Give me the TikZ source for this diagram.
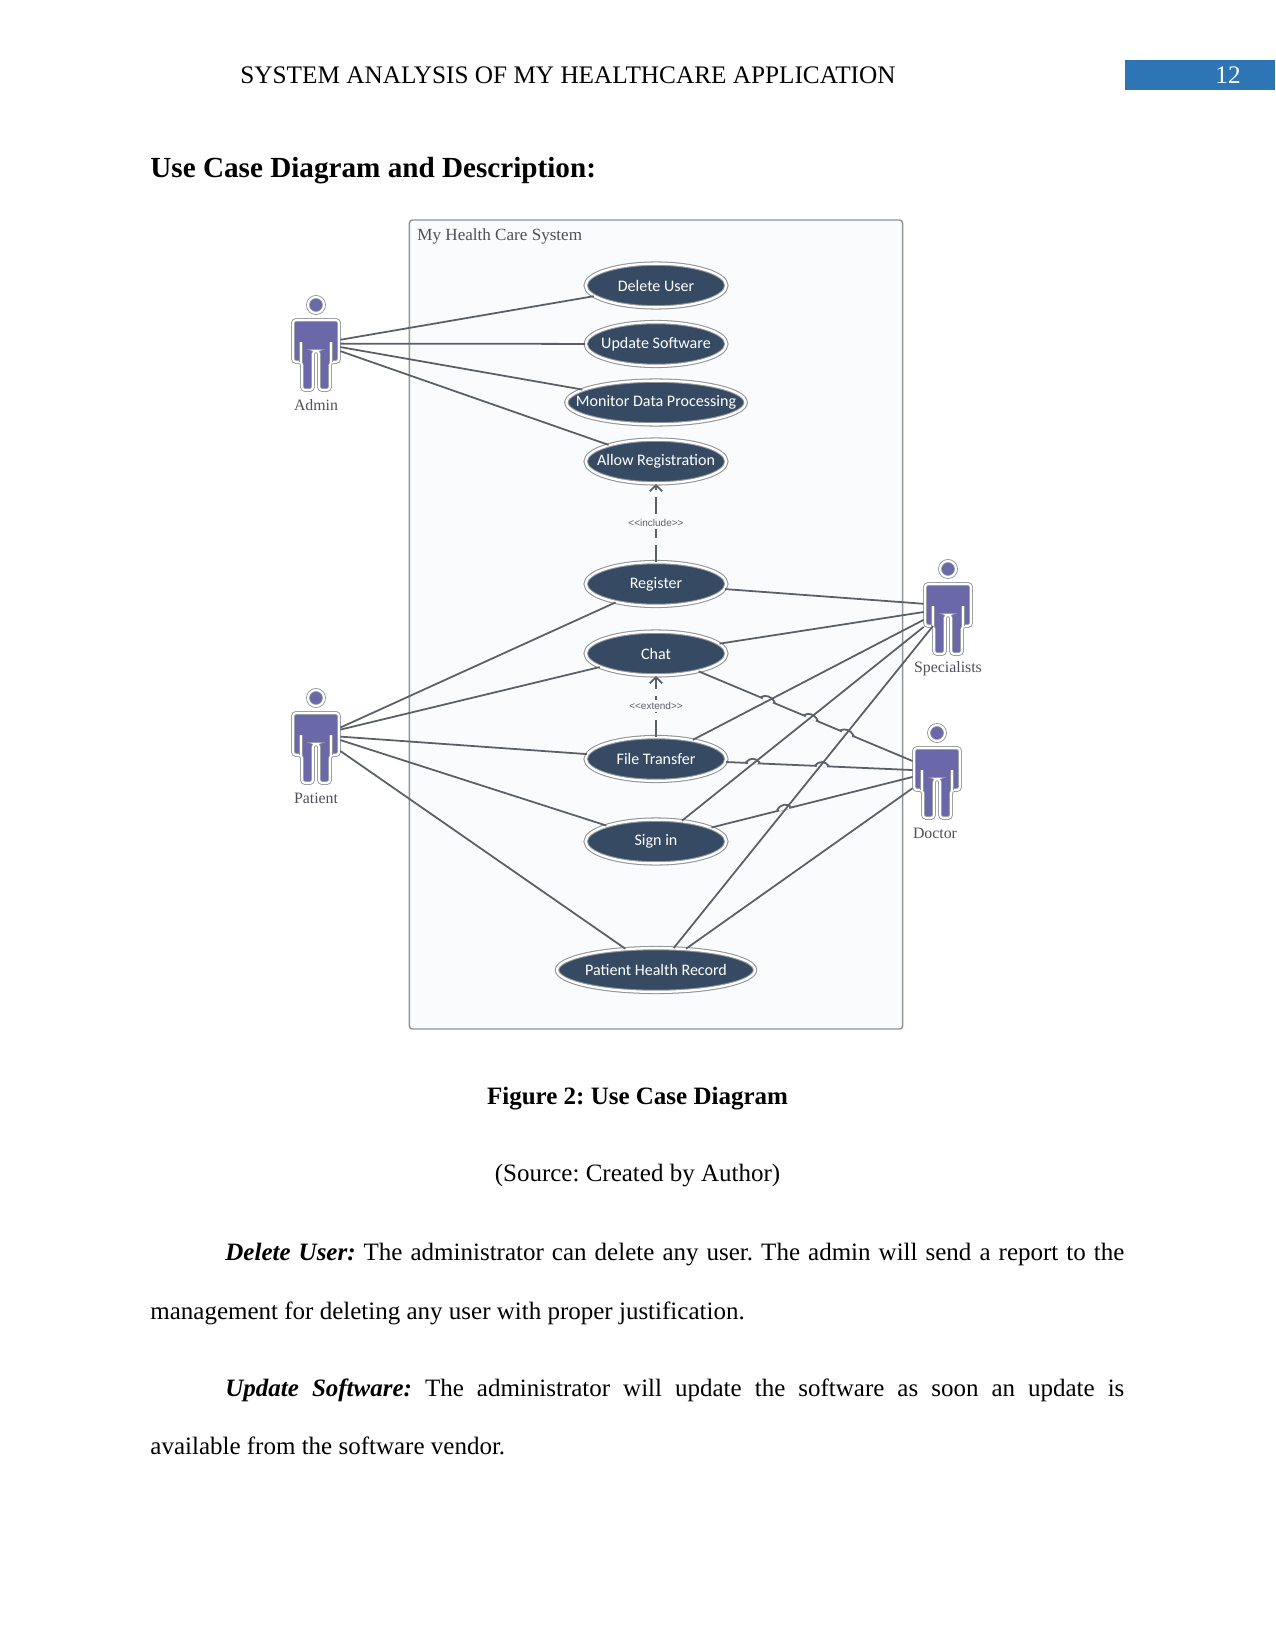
\documentclass[tikz,border=0pt]{standalone}
\usepackage{fontspec}
\setmainfont{Liberation Serif}
\newfontfamily\ucfont{Carlito}
\newfontfamily\tagfont{Liberation Sans}
\usetikzlibrary{shapes.geometric,arrows.meta}

\definecolor{ucdark}{HTML}{364B63}
\definecolor{ucedge}{HTML}{8E9499}
\definecolor{ucline}{HTML}{5A6068}
\definecolor{ucframe}{HTML}{FAFBFC}
\definecolor{ucactor}{HTML}{6A68A8}
\definecolor{uclabel}{HTML}{4E4E5C}
\definecolor{pageblue}{HTML}{2E75B6}

\tikzset{
  usecase/.style={ellipse,draw=ucedge,line width=.5pt,double=white,double distance=1.1pt,
    fill=ucdark,text=white,inner xsep=-10pt,inner ysep=-3pt,minimum width=67.5pt,minimum height=21pt,
    font=\ucfont\fontsize{7.7}{9}\selectfont},
  usecasewide/.style={usecase,minimum width=86pt},
  usecasewider/.style={usecase,minimum width=95pt},
  connector/.style={draw=ucline,line width=.85pt},
  depend/.style={connector,dash pattern=on 8.2pt off 3.3pt,-{Straight Barb[length=3pt,width=6pt]}},
  deptag/.style={fill=ucframe,inner sep=1pt,text=ucline,font=\tagfont\fontsize{4.8}{6}\selectfont},
  actorbody/.style={minimum width=23pt,minimum height=34pt,inner sep=0pt},
  actorskin/.style={fill=ucactor,draw=ucedge,line width=.4pt,double=white,double distance=1pt,
    rounded corners=1.5pt},
  actorslit/.style={draw=ucedge,line width=.4pt,double=white,double distance=1pt},
  actortag/.style={text=uclabel,inner sep=0pt,font=\fontsize{7.6}{9}\selectfont},
  plain/.style={inner sep=0pt,anchor=base west,font=\fontsize{12.12}{14}\selectfont},
  para/.style={inner sep=0pt,anchor=north west,text width=467.5pt,align=justify,
    font=\fontsize{12}{28.2}\selectfont\frenchspacing},
}

\newcommand{\actor}[5]{
  \begin{scope}[shift={(#2,#3)}]
    \draw[actorskin] (-23,-35) -- (23,-35) -- (23,7) -- (14,7) -- (14,35)
      -- (3,35) -- (3,-4) -- (-3,-4) -- (-3,35) -- (-14,35) -- (-14,7)
      -- (-23,7) -- cycle;
    \draw[actorslit] (-15,7) -- (-15,-13);
    \draw[actorslit] (15,7) -- (15,-13);
    \draw[actorskin] (0,-50) circle (8);
  \end{scope}
  \node[actorbody] (#1) at (#2,#3) {};
  \node[actortag] (#1tag) at (#4,#3+50) {#5};
}

\begin{document}
\begin{tikzpicture}[x=.48pt,y=-.48pt]
  \useasboundingbox (0,0) rectangle (1275,1650);

  % page head
  \node[fill=pageblue,minimum width=72pt,minimum height=14pt,inner sep=0pt] (pagebar) at (1200,75) {};
  \node[plain,text=white] (pageno) at (1215,84) {12};
  \node[plain] (pagehead) at (240,84) {SYSTEM ANALYSIS OF MY HEALTHCARE APPLICATION};
  \node[plain,font=\fontsize{14}{16}\selectfont\bfseries] (heading) at (150,178) {Use Case Diagram and Description:};

  % system frame
  \node[draw=ucedge,fill=ucframe,line width=.7pt,rounded corners=1.5pt,minimum width=236.8pt,
    minimum height=388.3pt,inner sep=0pt] (system) at (656,624.5) {};
  \node[plain,text=uclabel,font=\fontsize{8.2}{10}\selectfont] (systemtag) at (417,241) {My Health Care System};

  % use cases
  \node[usecase] (delete) at (656,285.5) {Delete User};
  \node[usecase] (update) at (656,344) {Update Software};
  \node[usecasewide] (monitor) at (656,402.5) {Monitor Data Processing};
  \node[usecase] (allow) at (656,461.5) {Allow Registration};
  \node[usecase] (register) at (656,584) {Register};
  \node[usecase] (chat) at (656,653.5) {Chat};
  \node[usecase] (file) at (656,759) {File Transfer};
  \node[usecase] (signin) at (656,841.5) {Sign in};
  \node[usecasewider] (record) at (656,970) {Patient Health Record};

  % actors
  \actor{admin}{316}{355}{316}{Admin}
  \actor{patient}{316}{748}{316}{Patient}
  \actor{specialists}{948}{619}{948}{Specialists}
  \actor{doctor}{937}{783}{935}{Doctor}
  \coordinate (specgap) at (933,626);

  \foreach \from/\to in
  {admin.32/delete, admin.25/update, admin.18/monitor, admin.9/allow,
   patient.40/register, patient.37/chat, patient.25/file, patient.18/signin, patient.-7/record}
      \draw[connector] (\from) -- (\to);

  \draw[depend] (register) -- node[deptag] (includetag) {{<}{<}include{>}{>}} (allow);
  \draw[depend] (file) -- node[deptag] (extendtag) {{<}{<}extend{>}{>}} (chat);

  \foreach \from/\to in
  {doctor.138/chat, doctor.152/file, doctor.166/signin, doctor.192/record}
      \draw[connector] (\from) -- (\to);

  % hops over the crossing lines
  \foreach \hx/\hy/\hs in
  {768/700/.42, 811/718/.42, 847/733.5/.42, 753/762.5/.05, 822/765.8/.05, 784/808.5/-.24}
  {
    \draw[draw=ucframe,line width=1.4pt] ({\hx-5},{\hy-5*\hs}) -- ({\hx+5},{\hy+5*\hs});
    \draw[connector] ({\hx-7},{\hy-7*\hs}) .. controls ({\hx-3},{\hy-5}) and ({\hx+3},{\hy-5}) .. ({\hx+7},{\hy+7*\hs});
  }

  \foreach \from/\to in
  {specialists.148/register, specialists.164/chat, specialists.182/file, specialists.198/signin, specgap/record}
      \draw[connector] (\from) -- (\to);

  % captions and text
  \node[inner sep=0pt,anchor=base,font=\fontsize{12}{14}\selectfont\bfseries\frenchspacing] (figcap) at (637.5,1104) {Figure 2: Use Case Diagram};
  \node[inner sep=0pt,anchor=base,font=\fontsize{12}{14}\selectfont\frenchspacing] (figsource) at (637.5,1181.5) {(Source: Created by Author)};
  \node[para] (deletetext) at (150,1243) {\hspace*{36pt}\textbf{\textit{Delete User:}} The administrator can delete any user. The admin will send a report to the\linebreak management for deleting any user with proper justification.};
  \node[para] (updatetext) at (150,1378) {\hspace*{36pt}\textbf{\textit{Update Software:}} The administrator will update the software as soon an update is\linebreak available from the software vendor.};
\end{tikzpicture}
\end{document}
